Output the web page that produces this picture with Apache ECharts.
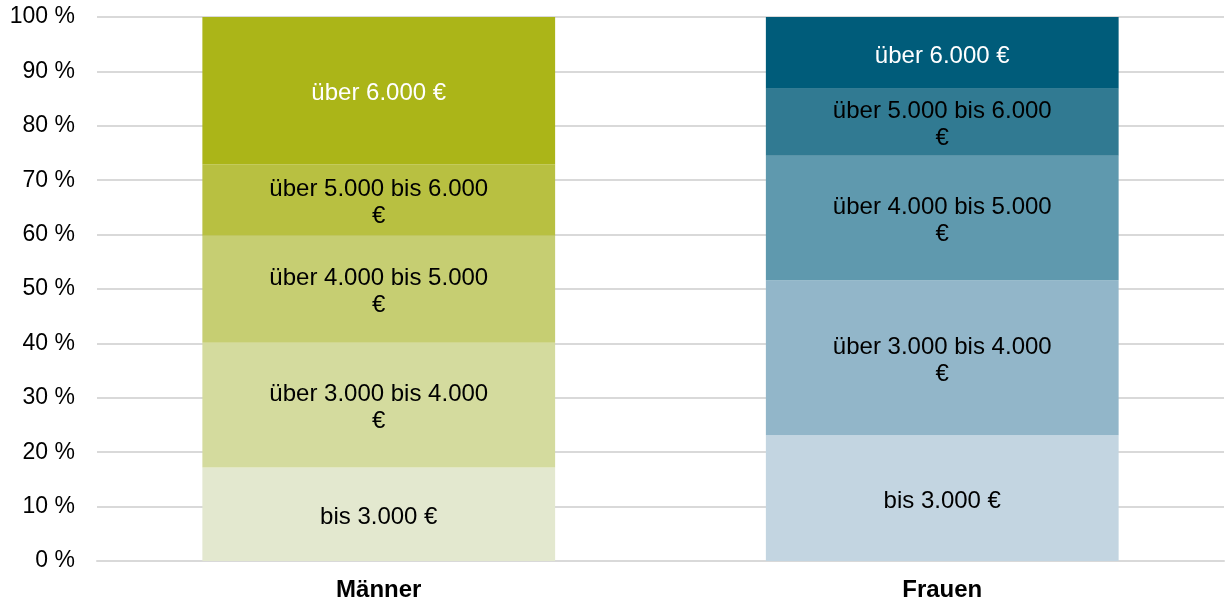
<!DOCTYPE html>
<html><head><meta charset="utf-8">
<script src="https://cdn.jsdelivr.net/npm/echarts@6/dist/echarts.min.js"></script>
<style>html,body{margin:0;padding:0;background:#fff}#c{width:1229px;height:602px}</style>
</head><body><div id="c"></div>
<script>
const categories = ['Männer', 'Frauen'];
const seriesNames = ['bis 3.000 €', 'über 3.000 bis 4.000 €', 'über 4.000 bis 5.000 €', 'über 5.000 bis 6.000 €', 'über 6.000 €'];
const bis3000 = [17.2, 23.1];
const von3000bis4000 = [22.9, 28.5];
const von4000bis5000 = [19.7, 22.9];
const von5000bis6000 = [13.1, 12.3];
const ueber6000 = [27.1, 13.2];
const yTicks = [0, 10, 20, 30, 40, 50, 60, 70, 80, 90, 100];

const values = [bis3000, von3000bis4000, von4000bis5000, von5000bis6000, ueber6000];
const colorsM = ['#E3E8CF', '#D4DB9E', '#C6CE72', '#B8C041', '#ABB518'];
const colorsF = ['#C3D5E1', '#92B6C9', '#5F99AE', '#317A92', '#005C7A'];
const labelColors = ['#000', '#000', '#000', '#000', '#fff'];
const FONT = 'Liberation Sans, Arial, sans-serif';

// long labels wrap before the euro sign, as in the original
const wrapLabel = s => s.length > 16 ? s.replace(/ €$/, '\n€') : s;

const chart = echarts.init(document.getElementById('c'), null, {renderer: 'canvas'});
const series = seriesNames.map((name, i) => ({
  name: name,
  type: 'bar',
  stack: 'total',
  barWidth: '62.6%',
  data: values[i].map((v, j) => ({value: v, itemStyle: {color: j === 0 ? colorsM[i] : colorsF[i]}})),
  label: {
    show: true,
    position: 'inside',
    offset: [0, 3],
    formatter: wrapLabel(name),
    color: labelColors[i],
    fontFamily: FONT,
    fontSize: 24,
    lineHeight: 27,
    align: 'center'
  }
}));

chart.setOption({
  animation: false,
  grid: {left: 97, right: 5, top: 17, bottom: 40, containLabel: false},
  xAxis: {
    type: 'category',
    data: categories,
    axisLine: {lineStyle: {color: '#D9D9D9', width: 2}},
    axisTick: {show: false},
    axisLabel: {color: '#000', fontWeight: 'bold', fontSize: 24, fontFamily: FONT, margin: 17}
  },
  yAxis: {
    type: 'value',
    min: 0, max: 100, interval: 10,
    axisLine: {show: false},
    axisTick: {show: false},
    splitLine: {lineStyle: {color: '#D9D9D9', width: 2}},
    axisLabel: {color: '#000', fontSize: 23, fontFamily: FONT, margin: 22,
      formatter: v => yTicks.includes(v) ? v + ' %' : ''}
  },
  series: series
});
</script></body></html>
